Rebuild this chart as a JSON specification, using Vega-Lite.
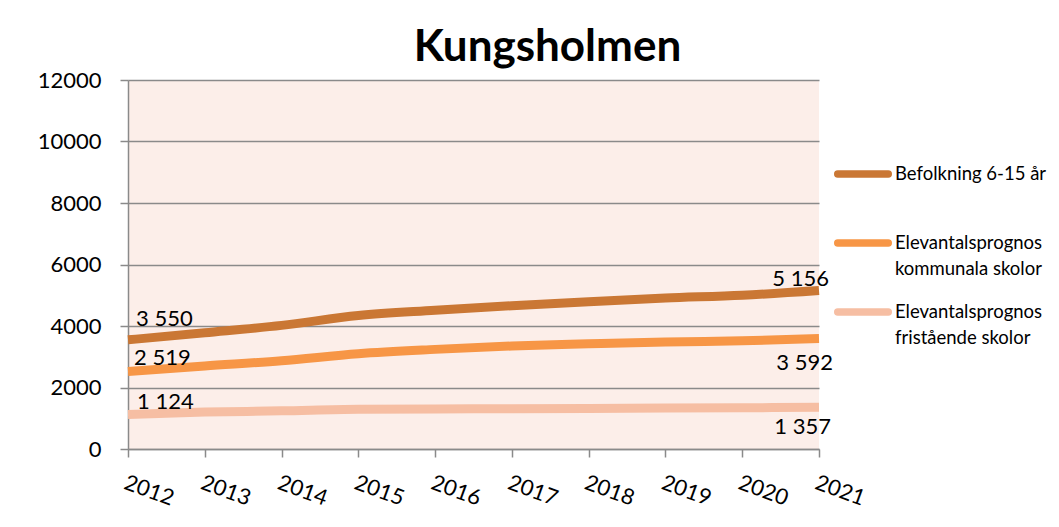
{
  "$schema": "https://vega.github.io/schema/vega-lite/v6.json",
  "width": 691,
  "height": 369,
  "autosize": {"type": "none"},
  "padding": {"left": 128, "top": 80, "right": 240, "bottom": 78},
  "background": "white",
  "title": {"text": "Kungsholmen", "font": "Lato", "fontSize": 44, "fontWeight": "bold", "anchor": "middle", "frame": "group", "dx": 74, "dy": 45, "baseline": "alphabetic", "offset": 9, "color": "#000000"},
  "data": {"values": [
    {"year": 2012, "serie": "Befolkning 6-15 år", "value": 3550},
    {"year": 2013, "serie": "Befolkning 6-15 år", "value": 3780},
    {"year": 2014, "serie": "Befolkning 6-15 år", "value": 4020},
    {"year": 2015, "serie": "Befolkning 6-15 år", "value": 4340},
    {"year": 2016, "serie": "Befolkning 6-15 år", "value": 4510},
    {"year": 2017, "serie": "Befolkning 6-15 år", "value": 4660},
    {"year": 2018, "serie": "Befolkning 6-15 år", "value": 4790},
    {"year": 2019, "serie": "Befolkning 6-15 år", "value": 4910},
    {"year": 2020, "serie": "Befolkning 6-15 år", "value": 5000},
    {"year": 2021, "serie": "Befolkning 6-15 år", "value": 5156},
    {"year": 2012, "serie": "Elevantalsprognos kommunala skolor", "value": 2519},
    {"year": 2013, "serie": "Elevantalsprognos kommunala skolor", "value": 2700},
    {"year": 2014, "serie": "Elevantalsprognos kommunala skolor", "value": 2870},
    {"year": 2015, "serie": "Elevantalsprognos kommunala skolor", "value": 3100},
    {"year": 2016, "serie": "Elevantalsprognos kommunala skolor", "value": 3240},
    {"year": 2017, "serie": "Elevantalsprognos kommunala skolor", "value": 3350},
    {"year": 2018, "serie": "Elevantalsprognos kommunala skolor", "value": 3420},
    {"year": 2019, "serie": "Elevantalsprognos kommunala skolor", "value": 3480},
    {"year": 2020, "serie": "Elevantalsprognos kommunala skolor", "value": 3520},
    {"year": 2021, "serie": "Elevantalsprognos kommunala skolor", "value": 3592},
    {"year": 2012, "serie": "Elevantalsprognos fristående skolor", "value": 1124},
    {"year": 2013, "serie": "Elevantalsprognos fristående skolor", "value": 1200},
    {"year": 2014, "serie": "Elevantalsprognos fristående skolor", "value": 1240},
    {"year": 2015, "serie": "Elevantalsprognos fristående skolor", "value": 1290},
    {"year": 2016, "serie": "Elevantalsprognos fristående skolor", "value": 1300},
    {"year": 2017, "serie": "Elevantalsprognos fristående skolor", "value": 1310},
    {"year": 2018, "serie": "Elevantalsprognos fristående skolor", "value": 1320},
    {"year": 2019, "serie": "Elevantalsprognos fristående skolor", "value": 1330},
    {"year": 2020, "serie": "Elevantalsprognos fristående skolor", "value": 1340},
    {"year": 2021, "serie": "Elevantalsprognos fristående skolor", "value": 1357}
  ]},
  "encoding": {
    "x": {"field": "year", "type": "ordinal", "scale": {"type": "point", "padding": 0},
      "axis": {"title": null, "labelAngle": 20, "labelAlign": "left", "labelBaseline": "top", "labelFont": "Lato", "labelFontSize": 22, "labelColor": "#000000", "labelPadding": 15, "tickSize": 8, "tickColor": "#8a8a8a", "tickWidth": 1.5, "domainColor": "#8a8a8a", "domainWidth": 1.5, "grid": false}},
    "y": {"field": "value", "type": "quantitative", "scale": {"domain": [0, 12000], "nice": false},
      "axis": {"title": null, "values": [0, 2000, 4000, 6000, 8000, 10000, 12000], "format": "d", "labelFont": "Lato", "labelFontSize": 22, "labelColor": "#000000", "labelPadding": 19, "tickSize": 8, "tickColor": "#8a8a8a", "tickWidth": 1.5, "domainColor": "#8a8a8a", "domainWidth": 1.5, "grid": true, "gridColor": "#8a8a8a", "gridWidth": 1.5}}
  },
  "layer": [
    {
      "mark": {"type": "line", "strokeWidth": 9, "interpolate": "monotone"},
      "encoding": {
        "color": {"field": "serie", "type": "nominal",
          "scale": {"domain": ["Befolkning 6-15 år", "Elevantalsprognos kommunala skolor", "Elevantalsprognos fristående skolor"], "range": ["#CA7734", "#F79646", "#F6BEA3"]},
          "legend": {"orient": "none", "legendX": 706, "legendY": 65, "title": null, "symbolType": "stroke", "symbolSize": 2550, "symbolStrokeWidth": 7.5, "labelFont": "Lato", "labelFontSize": 18.5, "labelColor": "#000000", "labelOffset": 3, "labelLimit": 400, "padding": 0, "rowPadding": 4, "labelBaseline": "middle",
            "labelExpr": "datum.label == 'Befolkning 6-15 år' ? [datum.label, ''] : split(replace(datum.label, 'prognos ', 'prognos|'), '|')",
            "encode": {"labels": {"update": {"lineHeight": {"value": 26}}}, "symbols": {"update": {"strokeCap": {"value": "round"}}}}}
        }
      }
    },
    {"transform": [{"filter": "datum.year == 2012 && datum.serie == 'Befolkning 6-15 år'"}],
     "mark": {"type": "text", "font": "Lato", "fontSize": 22, "color": "#000000", "align": "left", "baseline": "middle", "dx": 8, "dy": -21},
     "encoding": {"text": {"field": "value", "type": "quantitative", "format": ",d"}}},
    {"transform": [{"filter": "datum.year == 2012 && datum.serie == 'Elevantalsprognos kommunala skolor'"}],
     "mark": {"type": "text", "font": "Lato", "fontSize": 22, "color": "#000000", "align": "left", "baseline": "middle", "dx": 6, "dy": -14},
     "encoding": {"text": {"field": "value", "type": "quantitative", "format": ",d"}}},
    {"transform": [{"filter": "datum.year == 2012 && datum.serie == 'Elevantalsprognos fristående skolor'"}],
     "mark": {"type": "text", "font": "Lato", "fontSize": 22, "color": "#000000", "align": "left", "baseline": "middle", "dx": 9, "dy": -12},
     "encoding": {"text": {"field": "value", "type": "quantitative", "format": ",d"}}},
    {"transform": [{"filter": "datum.year == 2021 && datum.serie == 'Befolkning 6-15 år'"}],
     "mark": {"type": "text", "font": "Lato", "fontSize": 22, "color": "#000000", "align": "right", "baseline": "middle", "dx": 10, "dy": -11},
     "encoding": {"text": {"field": "value", "type": "quantitative", "format": ",d"}}},
    {"transform": [{"filter": "datum.year == 2021 && datum.serie == 'Elevantalsprognos kommunala skolor'"}],
     "mark": {"type": "text", "font": "Lato", "fontSize": 22, "color": "#000000", "align": "right", "baseline": "middle", "dx": 14, "dy": 24},
     "encoding": {"text": {"field": "value", "type": "quantitative", "format": ",d"}}},
    {"transform": [{"filter": "datum.year == 2021 && datum.serie == 'Elevantalsprognos fristående skolor'"}],
     "mark": {"type": "text", "font": "Lato", "fontSize": 22, "color": "#000000", "align": "right", "baseline": "middle", "dx": 12, "dy": 20},
     "encoding": {"text": {"field": "value", "type": "quantitative", "format": ",d"}}}
  ],
  "config": {
    "view": {"fill": "#FCEEE9", "stroke": null},
    "locale": {"number": {"decimal": ",", "thousands": " ", "grouping": [3], "currency": ["", " kr"]}}
  }
}
